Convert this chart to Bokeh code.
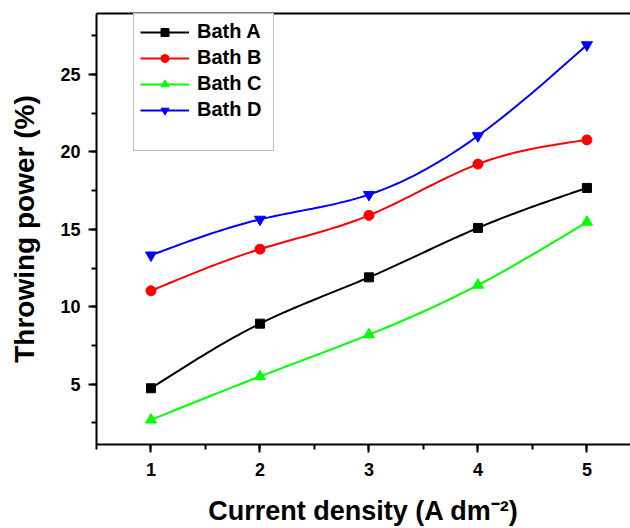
import numpy as np
from bokeh.plotting import figure
from bokeh.models import (Legend, LegendItem, SingleIntervalTicker, Range1d,
                          LinearAxis, FixedTicker)
from bokeh.embed import file_html
from bokeh.resources import INLINE

# ---- data ----
current_density = [1, 2, 3, 4, 5]
bath_a = [4.74, 8.91, 11.9, 15.09, 17.67]
bath_b = [11.03, 13.72, 15.9, 19.21, 20.77]
bath_c = [2.7, 5.5, 8.2, 11.4, 15.47]
bath_d = [13.33, 15.64, 17.24, 21.03, 26.9]
series_names = ["Bath A", "Bath B", "Bath C", "Bath D"]
series_colors = ["#000000", "#FF0000", "#00FF00", "#0000FF"]
series_markers = ["square", "circle", "triangle", "inverted_triangle"]
series_sizes = [9, 10, 11, 11]


def smooth_curve(xs, ys, n=25):
    """Natural cubic spline through the given points (for line rendering only)."""
    x = np.asarray(xs, float)
    y = np.asarray(ys, float)
    k = len(x)
    h = np.diff(x)
    A = np.zeros((k, k))
    r = np.zeros(k)
    A[0, 0] = 1
    A[-1, -1] = 1
    for i in range(1, k - 1):
        A[i, i - 1] = h[i - 1]
        A[i, i] = 2 * (h[i - 1] + h[i])
        A[i, i + 1] = h[i]
        r[i] = 3 * ((y[i + 1] - y[i]) / h[i] - (y[i] - y[i - 1]) / h[i - 1])
    c = np.linalg.solve(A, r)
    outx, outy = [], []
    for i in range(k - 1):
        b = (y[i + 1] - y[i]) / h[i] - h[i] * (2 * c[i] + c[i + 1]) / 3
        d = (c[i + 1] - c[i]) / (3 * h[i])
        t = np.linspace(0, h[i], n, endpoint=(i == k - 2))
        outx.extend(x[i] + t)
        outy.extend(y[i] + b * t + c[i] * t ** 2 + d * t ** 3)
    return outx, outy


p = figure(width=630, height=528, output_backend="svg", toolbar_location=None,
           x_range=Range1d(0.5, 5.40), y_range=Range1d(1.11, 28.93),
           min_border_left=96, min_border_top=13, min_border_right=0,
           min_border_bottom=81)
p.outline_line_color = None
p.xgrid.visible = False
p.ygrid.visible = False
p.background_fill_color = "white"
p.border_fill_color = "white"

bottom_axis = p.xaxis[0]
left_axis = p.yaxis[0]

# top border as a bare axis (the reference frame is cut off on the right)
top_axis = LinearAxis(ticker=FixedTicker(ticks=[]), axis_line_width=2,
                      axis_line_color="black",
                      major_tick_out=0, major_tick_in=0, minor_tick_out=0,
                      minor_tick_in=0, major_label_text_font_size="0px",
                      major_label_standoff=0, axis_label=None)
p.add_layout(top_axis, "above")

items = []
for name, vals, col, mk, sz in zip(series_names, [bath_a, bath_b, bath_c, bath_d],
                                   series_colors, series_markers, series_sizes):
    sx, sy = smooth_curve(current_density, vals)
    ln = p.line(sx, sy, line_color=col, line_width=2)
    sc = p.scatter(current_density, vals, marker=mk, size=sz, fill_color=col,
                   line_color=col)
    items.append(LegendItem(label=name, renderers=[ln, sc]))

blank = p.line([], [], line_alpha=0)
items.append(LegendItem(label=" ", renderers=[blank]))

legend = Legend(items=items, location=(37, 293), glyph_width=49, glyph_height=20,
                label_height=20, label_width=70, spacing=3, padding=6, margin=0,
                label_standoff=8,
                label_text_font="Liberation Sans", label_text_font_style="bold",
                label_text_font_size="20px", label_text_color="black",
                border_line_color="#808080",
                border_line_width=1.5, background_fill_alpha=1.0)
p.add_layout(legend, "center")

for ax in (bottom_axis, left_axis):
    ax.axis_line_width = 2
    ax.axis_line_color = "black"
    ax.major_tick_line_width = 2
    ax.minor_tick_line_width = 2
    ax.major_tick_line_color = "black"
    ax.minor_tick_line_color = "black"
    ax.major_tick_out = 8
    ax.major_tick_in = 0
    ax.minor_tick_out = 5
    ax.minor_tick_in = 0
    ax.major_label_text_font = "Liberation Sans"
    ax.major_label_text_font_style = "bold"
    ax.major_label_text_font_size = "18px"
    ax.major_label_text_color = "black"
    ax.axis_label_text_font = "Liberation Sans"
    ax.axis_label_text_font_style = "bold"
    ax.axis_label_text_font_size = "27px"
    ax.axis_label_text_color = "black"
    ax.axis_label_standoff = 17

left_axis.axis_label_text_font_size = "28px"
bottom_axis.major_label_standoff = 10
left_axis.major_label_standoff = 8
bottom_axis.ticker = SingleIntervalTicker(interval=1, num_minor_ticks=2)
left_axis.ticker = SingleIntervalTicker(interval=5, num_minor_ticks=2)
bottom_axis.axis_label = "Current density (A dm\u207b\u00b2)"
left_axis.axis_label = "Throwing power (%)"

open("out.html", "w").write(file_html(p, INLINE))
